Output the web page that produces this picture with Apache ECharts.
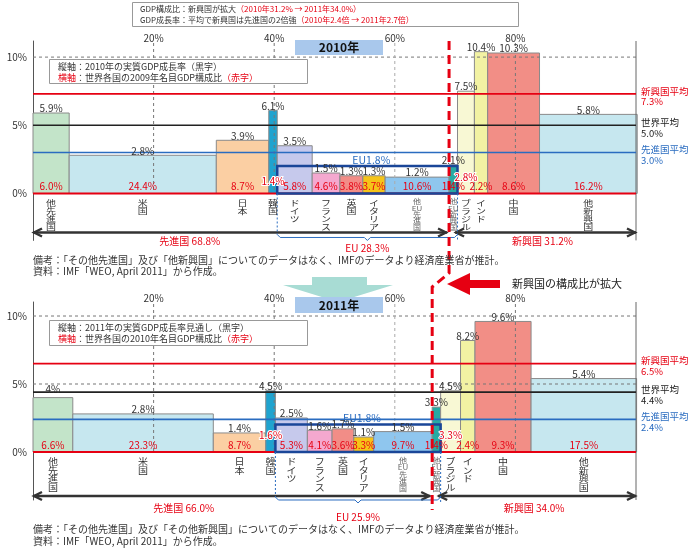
<!DOCTYPE html>
<html><head><meta charset="utf-8">
<script src="https://cdn.jsdelivr.net/npm/echarts@6/dist/echarts.min.js"></script>
<style>html,body{margin:0;padding:0;background:#fff}#c{width:690px;height:550px}</style>
</head><body><div id="c"></div>
<script>
// ---------- data ----------
const categories = ['他先進国','米国','日本','韓国','ドイツ','フランス','英国','イタリア','他EU先進国','他EU新興国','ブラジル','インド','中国','他新興国'];
const share2010  = [6.0, 24.4, 8.7, 1.4, 5.8, 4.6, 3.8, 3.7, 10.6, 1.4, 2.8, 2.2, 8.6, 16.2];
const growth2010 = [5.9, 2.8, 3.9, 6.1, 3.5, 1.5, 1.3, 1.3, 1.2, 2.1, 7.5, 10.4, 10.3, 5.8];
const share2011  = [6.6, 23.3, 8.7, 1.6, 5.3, 4.1, 3.6, 3.3, 9.7, 1.4, 3.3, 2.4, 9.3, 17.5];
const growth2011 = [4, 2.8, 1.4, 4.5, 2.5, 1.6, 1.7, 1.1, 1.5, 3.3, 4.5, 8.2, 9.6, 5.4];
const avgNames = ['新興国平均', '世界平均', '先進国平均'];
const avg2010 = [7.3, 5.0, 3.0];
const avg2011 = [6.5, 4.4, 2.4];
const euGrowth2010 = 1.8, euGrowth2011 = 1.8;
const groupNames = ['先進国', 'EU', '新興国'];
const groupShare2010 = [68.8, 28.3, 31.2];
const groupShare2011 = [66.0, 25.9, 34.0];
const xTicks = [20, 40, 60, 80];
const yTicks = [0, 5, 10];
const euFirst = 4, euLast = 9, emergingFirst = 9;

// ---------- style ----------
const FONT = '"Noto Sans CJK JP", "Noto Sans", sans-serif';
const RED = '#e60012', BLUE = '#2a6cc0', DARKBLUE = '#1a4698';
const barColors = ['#c3e4c9','#c6e7ef','#fbcfa3','#1fa3cf','#c6c9ec','#f4a8cf','#f28d87','#f5c419','#8fc6ee','#27aaa3','#f8f8d4','#f2f2a3','#f28e86','#c6e7ef'];
const avgColors = [RED, '#222', BLUE];

const conf = [
  {shares: share2010, growths: growth2010, avg: avg2010, eu: euGrowth2010, groups: groupShare2010,
   hDash: [10], raise: {3: 5, 10: 9}, lift: {}, catScale: 0.8, arrowDy: 39, bracketDy: 44, groupDy: 48, euDy: 55, devLabelX: 26},
  {shares: share2011, growths: growth2011, avg: avg2011, eu: euGrowth2011, groups: groupShare2011,
   hDash: [5, 10], raise: {3: 10, 10: 10}, lift: {0: 4}, catScale: 0.88, arrowDy: 44, bracketDy: 48, groupDy: 56, euDy: 65, devLabelX: 25}
];

function starts(shares){ const s=[]; let a=0; for(const v of shares){ s.push(a); a+=v; } return s; }
function vertical(s){ const out=[]; let buf=''; for(const ch of s){ if(/[A-Za-z0-9]/.test(ch)) buf+=ch; else { if(buf){out.push(buf);buf='';} out.push(ch);} } if(buf) out.push(buf); return out.join('\n'); }

function barSeries(idx){
  const c = conf[idx], st = starts(c.shares);
  return {
    type:'custom', xAxisIndex:idx, yAxisIndex:idx, z:2, silent:true,
    data: c.shares.map((s,i)=>[st[i], s, c.growths[i]]),
    renderItem(p, api){
      const i = p.dataIndex;
      const a = api.coord([api.value(0), 0]), b = api.coord([api.value(0)+api.value(1), api.value(2)]);
      return {type:'rect', shape:{x:a[0], y:b[1], width:b[0]-a[0], height:a[1]-b[1]},
        style:{fill:barColors[i], stroke:'#8a8a8a', lineWidth:1}};
    }
  };
}

function labelSeries(idx){
  const c = conf[idx], st = starts(c.shares);
  return {
    type:'custom', xAxisIndex:idx, yAxisIndex:idx, z:6, silent:true,
    data: c.shares.map((s,i)=>[st[i], s, c.growths[i]]),
    renderItem(p, api){
      const i = p.dataIndex;
      const a = api.coord([api.value(0), 0]), b = api.coord([api.value(0)+api.value(1), api.value(2)]);
      const cx = (a[0]+b[0])/2;
      const raise = c.raise[i] || 0;
      const lift = c.lift[i] || 0;
      const small = (i===8 || i===9);
      return {type:'group', children:[
        {type:'text', style:{text: String(api.value(2))+'%', x:cx, y:b[1]+0.5-lift, align:'center', verticalAlign:'bottom', fill:'#333', fontSize:10, fontFamily:FONT}},
        {type:'text', style:{text: api.value(1).toFixed(1)+'%', x:cx, y:a[1]-7-raise, align:'center', verticalAlign:'middle', fill:RED, fontSize:10, fontFamily:FONT,
          stroke: raise? '#fff':null, lineWidth: raise? 2:0}},
        {type:'text', x:cx, y:a[1]+5, scaleY:c.catScale,
          style:{text: vertical(categories[i]), x:0, y:0, align:'center', verticalAlign:'top', fill: small? '#666':'#333',
            fontSize: small? 8:10, lineHeight: small? 8:10, fontFamily:FONT}}
      ]};
    }
  };
}

function overlaySeries(idx){
  const c = conf[idx], st = starts(c.shares);
  const euStart = st[euFirst], euEnd = st[euLast] + c.shares[euLast];
  const devEnd = st[emergingFirst];
  const total = 100;
  return {
    type:'custom', xAxisIndex:idx, yAxisIndex:idx, z:4, silent:true, data:[[0,0]],
    renderItem(p, api){
      const P = (x,y)=>api.coord([x,y]);
      const ch = [];
      const line = (x1,y1,x2,y2,style)=>ch.push({type:'line', shape:{x1,y1,x2,y2}, style});
      const text = (t,x,y,style)=>ch.push({type:'text', style:Object.assign({text:t, x, y, fontFamily:FONT, fontSize:10}, style)});
      const yTop = P(0, yr[idx][1])[1];
      const y0 = P(0,0)[1];
      const xL = P(0,0)[0], xR = P(total,0)[0];
      // dashed grid
      for (const v of c.hDash){ const y=P(0,v)[1]; line(xL,y,xR,y,{stroke:'#777', lineWidth:1, lineDash:[3,3]}); }
      for (const v of xTicks){ const x=P(v,0)[0]; line(x,yTop+2,x,y0,{stroke: v===60?'#aaa':'#777', lineWidth:1, lineDash:[3,3]}); }
      // right border
      line(xR, yTop, xR, P(0, yr[idx][0])[1], {stroke:'#666', lineWidth:1});
      // average lines
      c.avg.forEach((v,k)=>{
        const y = P(0,v)[1];
        line(xL,y,xR,y,{stroke:avgColors[k], lineWidth:1.6});
        text(avgNames[k], xR+5, y+2, {fill:avgColors[k], verticalAlign:'bottom', align:'left', fontSize:9.5});
        text(v.toFixed(1)+'%', xR+5, y+3, {fill:avgColors[k], verticalAlign:'top', align:'left', fontSize:9.5});
      });
      // zero line
      line(xL,y0,xR,y0,{stroke:RED, lineWidth:2});
      // EU box
      const xe0 = P(euStart,0)[0], xe1 = P(euEnd,0)[0], ye = P(0,c.eu)[1]-3;
      ch.push({type:'rect', shape:{x:xe0, y:ye, width:xe1-xe0, height:y0-ye}, style:{fill:null, stroke:DARKBLUE, lineWidth:2.5}});
      text('EU'+c.eu.toFixed(1)+'%', (xe0+xe1)/2+4, ye-1, {fill:BLUE, align:'center', verticalAlign:'bottom', fontSize:10.5});
      // arrows
      const ay = y0 + c.arrowDy, xd = P(devEnd,0)[0];
      const arrow = (x1,x2)=>{
        line(x1,ay,x2,ay,{stroke:'#333', lineWidth:2.4});
        ch.push({type:'polyline', shape:{points:[[x1+9,ay-4],[x1+1,ay],[x1+9,ay+4]]}, style:{stroke:'#333', lineWidth:2.4, fill:null}});
        ch.push({type:'polyline', shape:{points:[[x2-9,ay-4],[x2-1,ay],[x2-9,ay+4]]}, style:{stroke:'#333', lineWidth:2.4, fill:null}});
      };
      arrow(xL, xd-2); arrow(xd+6, xR);
      // EU bracket
      const by = y0 + c.bracketDy, xm = (xe0+xe1)/2;
      line(xe0, y0, xe0, by-3, {stroke:BLUE, lineWidth:1, lineDash:[2,2]});
      line(xe1, y0, xe1, by+4, {stroke:BLUE, lineWidth:1, lineDash:[2,2]});
      ch.push({type:'polyline', shape:{points:[[xe0,by-3],[xe0+3,by],[xm-3,by],[xm,by+3],[xm+3,by],[xe1-3,by],[xe1,by-3]]}, style:{stroke:BLUE, lineWidth:1, fill:null}});
      // group labels
      text(groupNames[0]+' '+c.groups[0].toFixed(1)+'%', P(c.devLabelX,0)[0], y0+c.groupDy, {fill:RED, align:'center', verticalAlign:'middle'});
      text(groupNames[1]+' '+c.groups[1].toFixed(1)+'%', xm, y0+c.euDy, {fill:RED, align:'center', verticalAlign:'middle'});
      text(groupNames[2]+' '+c.groups[2].toFixed(1)+'%', (xd+xR)/2, y0+c.groupDy, {fill:RED, align:'center', verticalAlign:'middle'});
      return {type:'group', children:ch};
    }
  };
}

const chart = echarts.init(document.getElementById('c'));
const grids = [{left:33, top:41, width:603, height:199.4}, {left:33, top:302, width:603, height:198}];
const yr = [[-3.44, 11.18], [-3.53, 11.03]];
chart.setOption({
  animation:false,
  textStyle:{fontFamily:FONT},
  grid: grids,
  xAxis: [0,1].map(i=>({type:'value', gridIndex:i, min:0, max:100, position:'top',
    axisLine:{show:false}, axisTick:{show:false}, splitLine:{show:false},
    axisLabel:{customValues:xTicks, formatter:'{value}%', color:'#333', fontSize:10, fontFamily:FONT, margin: i===0?3:4, verticalAlign:'middle'}})),
  yAxis: [0,1].map(i=>({type:'value', gridIndex:i, min:yr[i][0], max:yr[i][1],
    axisLine:{show:true, lineStyle:{color:'#555', width:1}}, axisTick:{show:false}, splitLine:{show:false},
    axisLabel:{customValues:yTicks, formatter:'{value}%', color:'#333', fontSize:10, fontFamily:FONT, margin:6}})),
  series: [barSeries(0), overlaySeries(0), labelSeries(0), barSeries(1), overlaySeries(1), labelSeries(1)]
});

// boundary between developed and emerging, through the axes
const b0 = chart.convertToPixel({gridIndex:0}, [starts(share2010)[emergingFirst], 0])[0];
const b1 = chart.convertToPixel({gridIndex:1}, [starts(share2011)[emergingFirst], 0])[0];

const noteStyle = {fill:'#333', fontSize:10, fontFamily:FONT};
chart.setOption({graphic:{elements:[
  // header box
  {type:'rect', z:100, shape:{x:132.5, y:2.5, width:386, height:24}, style:{fill:'#fff', stroke:'#999', lineWidth:1}},
  {type:'text', z:101, style:{x:140, y:9, verticalAlign:'middle', fontSize:8, fontFamily:FONT, fill:'#333',
    text:'GDP構成比：新興国が拡大{r|（2010年31.2% → 2011年34.0%）}', rich:{r:{fill:RED, fontSize:8, fontFamily:FONT}}}},
  {type:'text', z:101, style:{x:140, y:20, verticalAlign:'middle', fontSize:8, fontFamily:FONT, fill:'#333',
    text:'GDP成長率：平均で新興国は先進国の2倍強{r|（2010年2.4倍 → 2011年2.7倍）}', rich:{r:{fill:RED, fontSize:8, fontFamily:FONT}}}},
  // legend boxes
  {type:'rect', z:100, shape:{x:49.5, y:59.5, width:258, height:24}, style:{fill:'#fff', stroke:'#999', lineWidth:1}},
  {type:'text', z:101, style:{x:58, y:66.5, verticalAlign:'middle', fontSize:9, fontFamily:FONT, fill:'#333', text:'縦軸：2010年の実質GDP成長率（黒字）'}},
  {type:'text', z:101, style:{x:58, y:77.5, verticalAlign:'middle', fontSize:9, fontFamily:FONT, fill:'#333',
    text:'{r|横軸}：世界各国の2009年名目GDP構成比{r|（赤字）}', rich:{r:{fill:RED, fontSize:9, fontFamily:FONT}}}},
  {type:'rect', z:100, shape:{x:49.5, y:320.5, width:258, height:25}, style:{fill:'#fff', stroke:'#999', lineWidth:1}},
  {type:'text', z:101, style:{x:58, y:328, verticalAlign:'middle', fontSize:9, fontFamily:FONT, fill:'#333', text:'縦軸：2011年の実質GDP成長率見通し（黒字）'}},
  {type:'text', z:101, style:{x:58, y:339, verticalAlign:'middle', fontSize:9, fontFamily:FONT, fill:'#333',
    text:'{r|横軸}：世界各国の2010年名目GDP構成比{r|（赤字）}', rich:{r:{fill:RED, fontSize:9, fontFamily:FONT}}}},
  // notes
  {type:'text', z:100, style:Object.assign({x:33, y:260, verticalAlign:'middle', text:'備考：「その他先進国」及び「他新興国」についてのデータはなく、IMFのデータより経済産業省が推計。'}, noteStyle)},
  {type:'text', z:100, style:Object.assign({x:33, y:271, verticalAlign:'middle', text:'資料：IMF「WEO, April 2011」から作成。'}, noteStyle)},
  {type:'text', z:100, style:Object.assign({x:33, y:529, verticalAlign:'middle', text:'備考：「その他先進国」及び「その他新興国」についてのデータはなく、IMFのデータより経済産業省が推計。'}, noteStyle)},
  {type:'text', z:100, style:Object.assign({x:33, y:541, verticalAlign:'middle', text:'資料：IMF「WEO, April 2011」から作成。'}, noteStyle)},
  // cyan down arrow
  {type:'polygon', z:100, shape:{points:[[312,277],[367,277],[367,285],[393,285],[338,302],[283,285],[312,285]]}, style:{fill:'#a8dcd4'}},
  // year boxes
  {type:'rect', z:101, shape:{x:295, y:40, width:88, height:15}, style:{fill:'#a9c8ec'}},
  {type:'text', z:102, style:{x:339, y:47.5, align:'center', verticalAlign:'middle', text:'2010年', fontSize:12, fontWeight:'bold', fontFamily:FONT, fill:'#111'}},
  {type:'rect', z:101, shape:{x:295, y:297, width:88, height:16}, style:{fill:'#a9c8ec'}},
  {type:'text', z:102, style:{x:339, y:305, align:'center', verticalAlign:'middle', text:'2011年', fontSize:12, fontWeight:'bold', fontFamily:FONT, fill:'#111'}},
  // red left arrow + text
  {type:'polygon', z:100, shape:{points:[[447,284],[470,273],[470,280],[500,280],[500,288],[470,288],[470,295]]}, style:{fill:RED}},
  {type:'text', z:100, style:{x:512, y:284, verticalAlign:'middle', text:'新興国の構成比が拡大', fontSize:11, fontFamily:FONT, fill:'#222'}},
  // boundary dashed line
  {type:'polyline', z:99, shape:{points:[[b0,41],[b0,273],[b1,287],[b1,510]]}, style:{stroke:RED, lineWidth:3, lineDash:[9,5], fill:null}}
]}});
</script>
</body></html>
